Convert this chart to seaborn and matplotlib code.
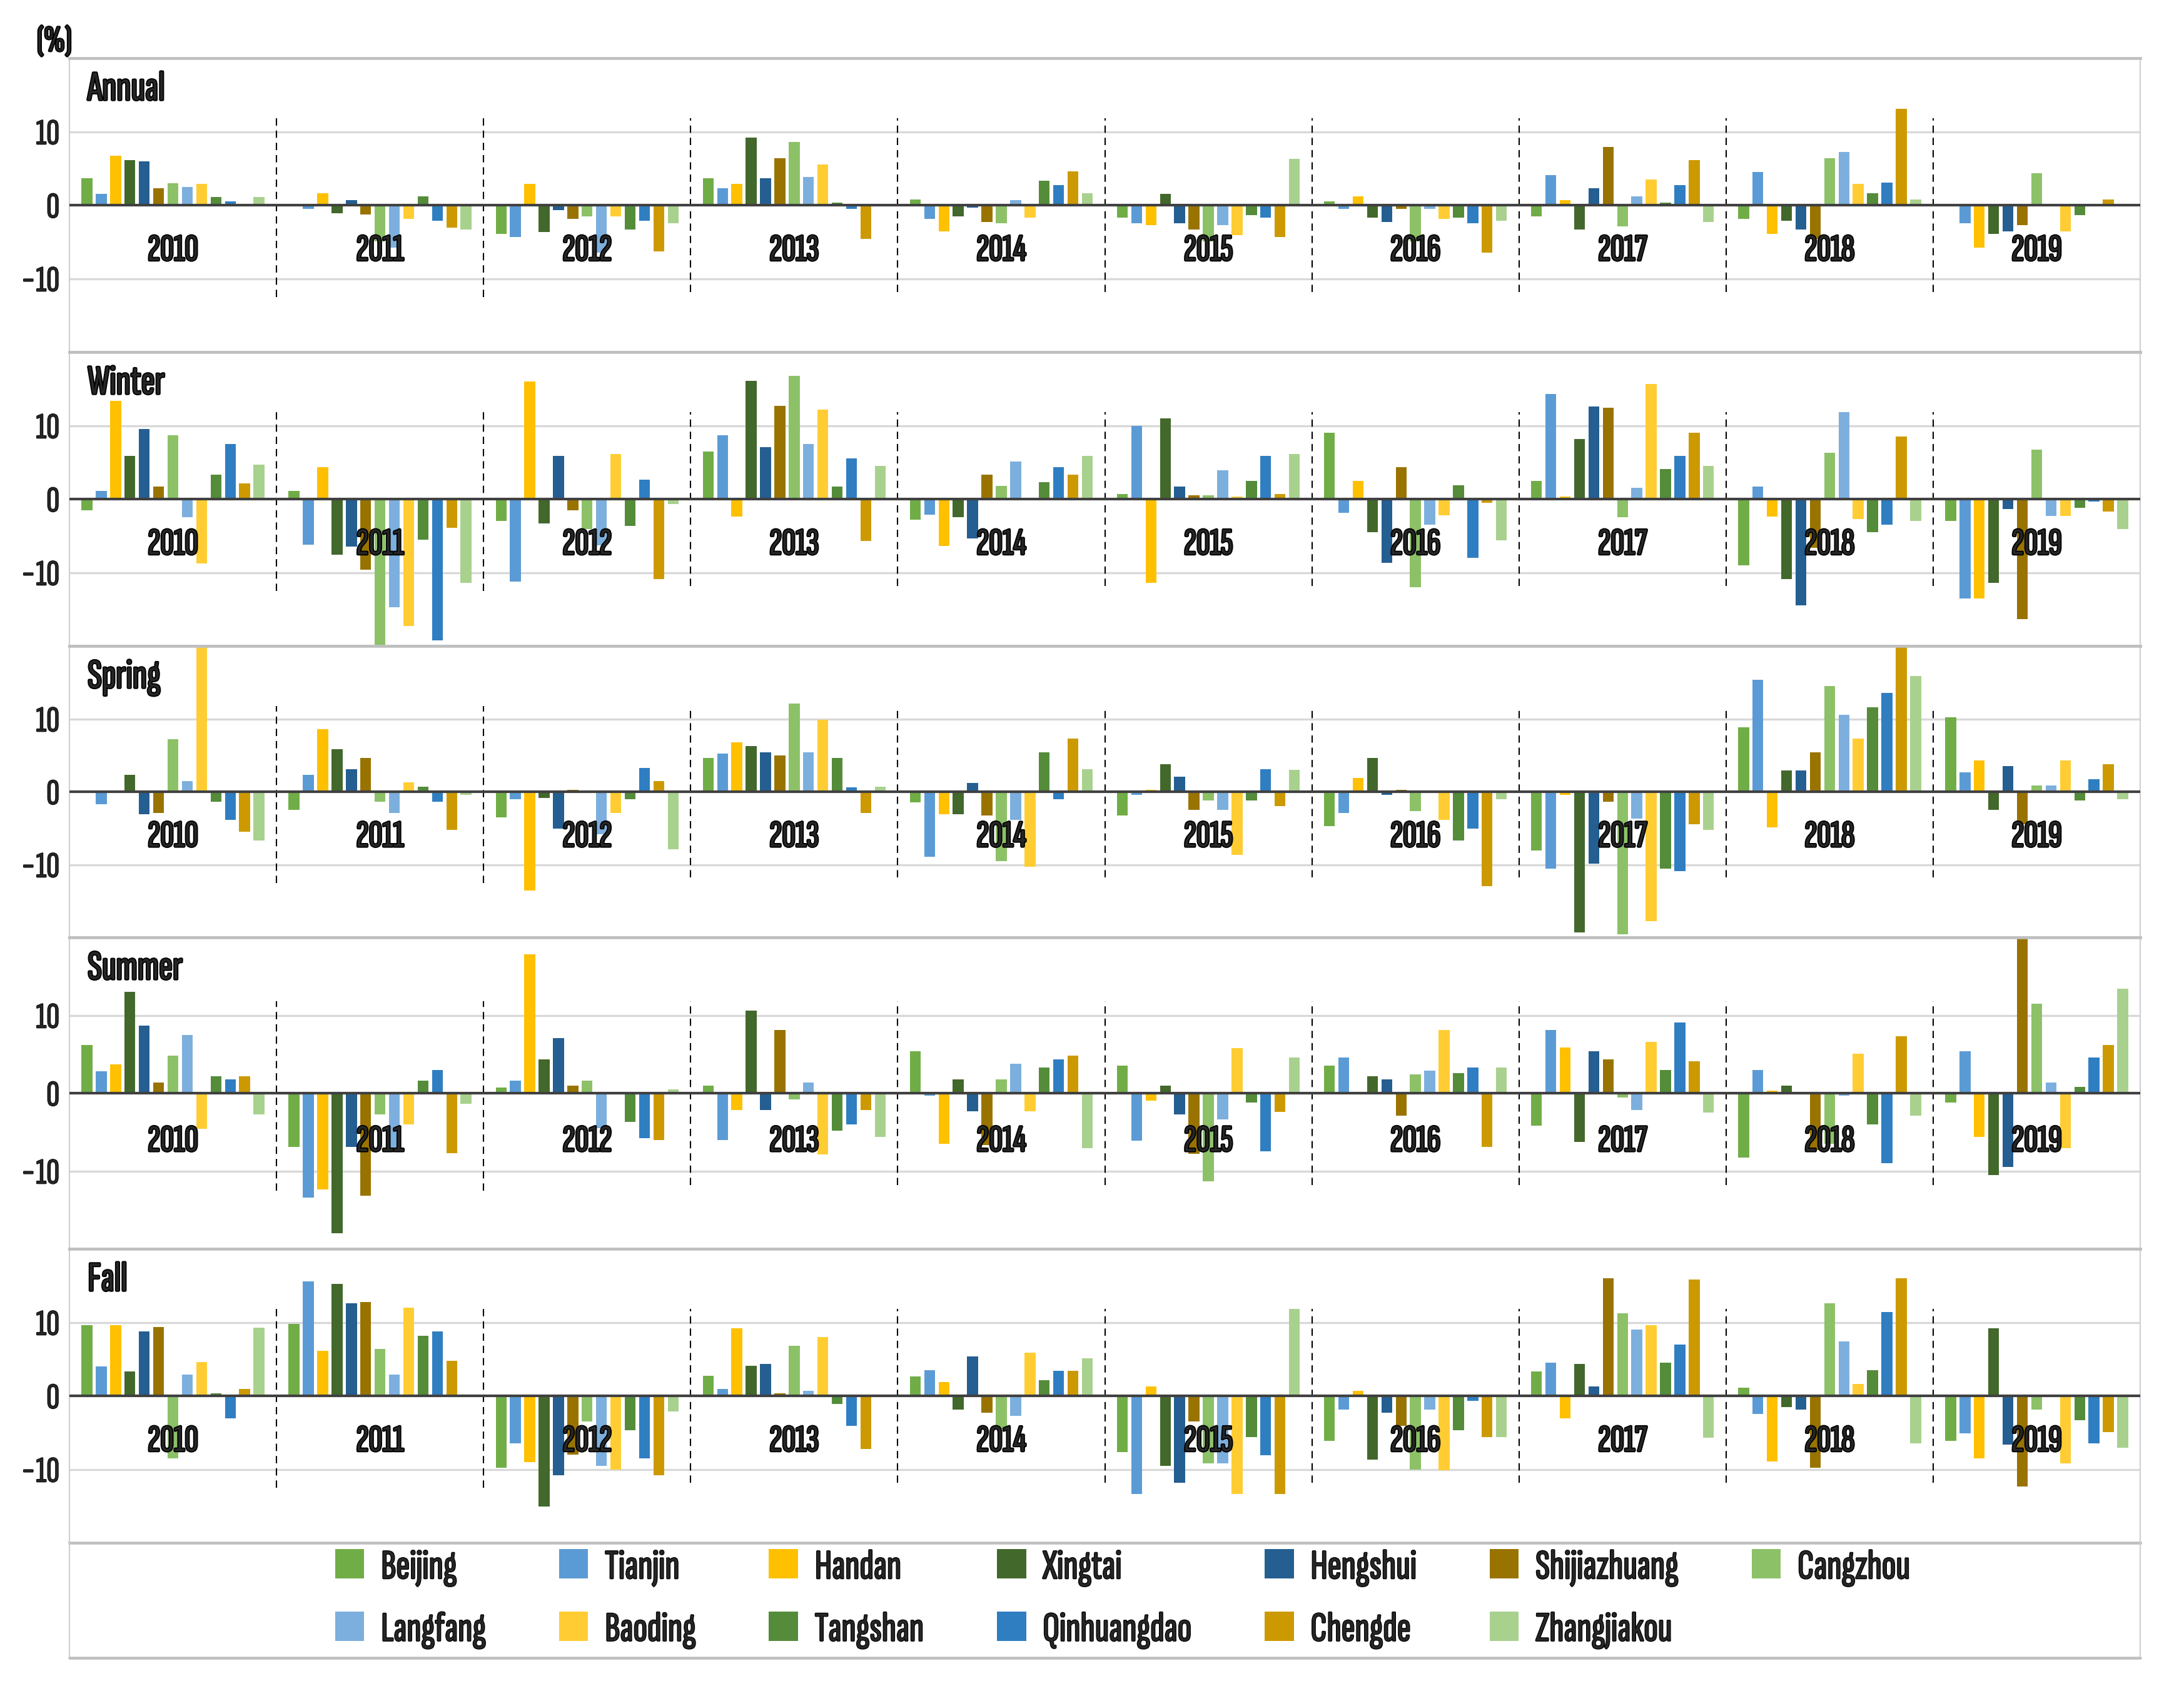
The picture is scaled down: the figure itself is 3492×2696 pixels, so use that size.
import numpy as np
import pandas as pd
import seaborn as sns
import matplotlib.pyplot as plt
import matplotlib.patheffects as pe
from matplotlib.patches import Patch
from matplotlib.lines import Line2D

# cities in legend / bar order
cities = ["Beijing", "Tianjin", "Handan", "Xingtai", "Hengshui", "Shijiazhuang", "Cangzhou",
          "Langfang", "Baoding", "Tangshan", "Qinhuangdao", "Chengde", "Zhangjiakou"]
colors = ["#70AD47", "#5B9BD5", "#FFC000", "#43682B", "#255E91", "#997300", "#8CC168",
          "#7CAFDD", "#FFCD33", "#548C3A", "#2F7EC2", "#CC9A00", "#A9D18E"]
years = [str(y) for y in range(2010, 2020)]
seasons = ["Annual", "Winter", "Spring", "Summer", "Fall"]

# one row per year, one value per city (%)
annual = [
    [3.7, 1.5, 6.7, 6.1, 6.0, 2.3, 3.0, 2.5, 2.9, 1.1, 0.5, 0.0, 1.1],
    [0.2, -0.5, 1.6, -1.1, 0.7, -1.3, -4.9, -5.8, -1.9, 1.2, -2.1, -3.1, -3.3],
    [-3.9, -4.3, 2.9, -3.7, -0.7, -1.9, -1.5, -6.5, -1.5, -3.3, -2.1, -6.3, -2.5],
    [3.7, 2.3, 2.9, 9.2, 3.7, 6.4, 8.6, 3.8, 5.5, 0.3, -0.5, -4.6, 0.0],
    [0.8, -1.9, -3.6, -1.5, -0.3, -2.3, -2.5, 0.7, -1.7, 3.3, 2.7, 4.6, 1.6],
    [-1.7, -2.5, -2.7, 1.5, -2.5, -3.3, -4.9, -2.7, -4.1, -1.4, -1.7, -4.3, 6.3],
    [0.5, -0.5, 1.2, -1.7, -2.3, -0.5, -4.9, -0.5, -1.9, -1.7, -2.5, -6.5, -2.1],
    [-1.5, 4.1, 0.7, -3.3, 2.3, 7.9, -2.9, 1.2, 3.5, 0.3, 2.7, 6.1, -2.3],
    [-1.9, 4.5, -3.9, -2.1, -3.3, -4.6, 6.4, 7.2, 2.9, 1.6, 3.1, 13.1, 0.8],
    [0.0, -2.5, -5.8, -3.9, -3.6, -2.7, 4.3, 0.0, -3.6, -1.4, 0.0, 0.8, 0.2],
]
winter = [
    [-1.5, 1.1, 13.4, 5.9, 9.5, 1.7, 8.7, -2.5, -8.8, 3.3, 7.5, 2.1, 4.7],
    [1.1, -6.2, 4.3, -7.6, -6.5, -9.6, -20.5, -14.7, -17.3, -5.5, -19.2, -3.9, -11.4],
    [-3.0, -11.2, 16.0, -3.3, 5.9, -1.5, -4.1, -6.3, 6.1, -3.7, 2.6, -10.9, -0.7],
    [6.5, 8.7, -2.4, 16.1, 7.1, 12.7, 16.8, 7.5, 12.2, 1.7, 5.5, -5.7, 4.5],
    [-2.8, -2.1, -6.4, -2.5, -5.4, 3.3, 1.8, 5.1, 0.0, 2.3, 4.3, 3.3, 5.9],
    [0.7, 10.0, -11.4, 11.0, 1.7, 0.5, 0.5, 3.9, 0.3, 2.5, 5.9, 0.7, 6.1],
    [9.0, -1.9, 2.5, -4.5, -8.7, 4.3, -12.0, -3.5, -2.2, 1.9, -8.0, -0.5, -5.6],
    [2.5, 14.3, 0.3, 8.2, 12.6, 12.4, -2.5, 1.5, 15.7, 4.1, 5.9, 9.0, 4.5],
    [-9.0, 1.7, -2.4, -10.9, -14.5, -6.6, 6.3, 11.8, -2.7, -4.5, -3.5, 8.5, -3.0],
    [-3.0, -13.5, -13.5, -11.4, -1.4, -16.3, 6.7, -2.3, -2.3, -1.2, -0.3, -1.7, -4.1],
]
spring = [
    [0.0, -1.7, -0.2, 2.3, -3.1, -2.9, 7.2, 1.5, 21.0, -1.4, -3.9, -5.5, -6.7],
    [-2.5, 2.3, 8.6, 5.8, 3.1, 4.6, -1.4, -2.9, 1.3, 0.7, -1.4, -5.2, -0.4],
    [-3.5, -1.0, -13.6, -0.9, -5.1, 0.3, 0.0, -5.8, -2.9, -1.0, 3.3, 1.5, -7.9],
    [4.6, 5.2, 6.8, 6.3, 5.4, 5.0, 12.1, 5.4, 9.9, 4.6, 0.6, -2.9, 0.7],
    [-1.5, -8.9, -3.1, -3.1, 1.2, -3.3, -9.5, -3.9, -10.3, 5.4, -1.0, 7.3, 3.1],
    [-3.3, -0.4, 0.3, 3.8, 2.1, -2.5, -1.2, -2.5, -8.7, -1.2, 3.1, -2.0, 3.0],
    [-4.7, -2.9, 1.9, 4.6, -0.4, 0.3, -2.7, 0.0, -3.9, -6.7, -5.1, -13.0, -1.0],
    [-8.1, -10.6, -0.4, -19.3, -9.9, -1.4, -19.6, -3.7, -17.8, -10.6, -10.9, -4.5, -5.2],
    [8.8, 15.4, -4.9, 2.9, 2.9, 5.4, 14.5, 10.6, 7.3, 11.6, 13.6, 20.8, 15.9],
    [10.2, 2.7, 4.3, -2.5, 3.5, -4.5, 0.9, 0.9, 4.3, -1.2, 1.7, 3.8, -1.0],
]
summer = [
    [6.2, 2.8, 3.7, 13.0, 8.7, 1.4, 4.8, 7.5, -4.6, 2.2, 1.8, 2.2, -2.7],
    [-6.9, -13.4, -12.4, -18.0, -6.9, -13.2, -2.7, -7.0, -4.0, 1.6, 3.0, -7.7, -1.4],
    [0.7, 1.6, 17.8, 4.3, 7.1, 1.0, 1.6, -4.5, 0.2, -3.7, -5.8, -6.0, 0.5],
    [1.0, -6.0, -2.2, 10.6, -2.2, 8.1, -0.8, 1.4, -7.9, -4.8, -4.0, -2.2, -5.6],
    [5.4, -0.3, -6.5, 1.8, -2.3, -6.7, 1.8, 3.8, -2.3, 3.3, 4.3, 4.8, -7.1],
    [3.5, -6.1, -1.0, 1.0, -2.7, -7.8, -11.3, -3.4, 5.8, -1.2, -7.5, -2.4, 4.6],
    [3.5, 4.6, 0.0, 2.2, 1.8, -2.9, 2.4, 2.9, 8.1, 2.6, 3.3, -6.9, 3.3],
    [-4.2, 8.1, 5.9, -6.3, 5.4, 4.3, -0.6, -2.2, 6.6, 3.0, 9.1, 4.1, -2.5],
    [-8.3, 3.0, 0.3, 1.0, 0.0, -7.3, -6.5, -0.3, 5.1, -4.0, -9.0, 7.3, -2.9],
    [-1.2, 5.4, -5.6, -10.5, -9.5, 21.0, 11.5, 1.4, -7.1, 0.8, 4.6, 6.2, 13.4],
]
fall = [
    [9.6, 4.0, 9.6, 3.3, 8.8, 9.4, -8.5, 2.9, 4.6, 0.3, -3.1, 0.9, 9.3],
    [9.8, 15.6, 6.1, 15.2, 12.6, 12.8, 6.4, 2.9, 12.0, 8.2, 8.8, 4.8, 0.0],
    [-9.8, -6.5, -9.0, -15.1, -10.8, -8.0, -3.5, -9.5, -10.0, -4.7, -8.5, -10.8, -2.1],
    [2.7, 0.9, 9.2, 4.1, 4.3, 0.3, 6.8, 0.7, 8.0, -1.1, -4.1, -7.2, 0.0],
    [2.6, 3.5, 1.9, -1.9, 5.4, -2.3, -4.5, -2.7, 5.9, 2.1, 3.4, 3.4, 5.1],
    [-7.7, -13.4, 1.3, -9.5, -11.8, -3.5, -9.2, -9.2, -13.4, -5.6, -8.1, -13.4, 11.8],
    [-6.1, -1.9, 0.7, -8.7, -2.3, -4.1, -10.0, -1.9, -10.1, -4.7, -0.7, -5.6, -5.6],
    [3.3, 4.5, -3.1, 4.3, 1.3, 16.0, 11.2, 9.0, 9.6, 4.5, 7.0, 15.8, -5.7],
    [1.1, -2.5, -8.9, -1.5, -1.9, -9.8, 12.6, 7.4, 1.6, 3.5, 11.4, 16.0, -6.5],
    [-6.1, -5.1, -8.5, 9.2, -6.6, -12.3, -1.9, -0.2, -9.2, -3.3, -6.5, -4.9, -7.1],
]
season_values = [annual, winter, spring, summer, fall]


def long_table(values):
    rows = []
    for year, row in zip(years, values):
        for city, v in zip(cities, row):
            rows.append({"year": year, "city": city, "value": v})
    return pd.DataFrame(rows)


sns.set_theme(style="white")
# condensed face, thickened with a stroke since only the regular instance loads
plt.rcParams["font.family"] = ["Sofia Sans Extra Condensed", "DejaVu Sans"]
plt.rcParams["lines.scale_dashes"] = False
bold = [pe.withStroke(linewidth=0.9, foreground="black")]

W, H, DPI = 3492, 2696, 300
fig = plt.figure(figsize=(W / DPI, H / DPI), dpi=DPI)

# panel layout in pixels
left_px, right_px = 111, 3422
edges_px = [93, 563, 1033, 1499, 1997, 2467]
frame_bottom_px = 2651

for i, (name, values) in enumerate(zip(seasons, season_values)):
    top, bottom = edges_px[i], edges_px[i + 1]
    ax = fig.add_axes([left_px / W, 1 - bottom / H,
                       (right_px - left_px) / W, (bottom - top) / H])
    df = long_table(values)
    sns.barplot(data=df, x="year", y="value", hue="city", order=years, hue_order=cities,
                palette=colors, saturation=1, width=0.9, gap=0.24, errorbar=None,
                linewidth=0, legend=False, ax=ax, zorder=2)
    ax.set_xlim(-0.5, 9.5)
    ax.set_ylim(-20, 20)

    # grid and zero line
    for yv in (-10, 10):
        ax.axhline(yv, color="#D9D9D9", lw=0.8, zorder=0)
    ax.axhline(0, color="#404040", lw=1.0, zorder=3)

    # dashed separators between years (first two reach a little lower)
    ax.vlines([0.5, 1.5], -12.5, 11.8, colors="black", lw=0.5,
              linestyles=(0, (2.8, 1.9)), zorder=1)
    ax.vlines(np.arange(2.5, 9.5, 1), -11.8, 11.8, colors="black", lw=0.5,
              linestyles=(0, (2.8, 1.9)), zorder=1)

    for j, yr in enumerate(years):
        ax.text(j, -6.2, yr, ha="center", va="center", fontsize=14.5,
                zorder=5, path_effects=bold)

    ax.annotate(name, xy=(0, 1), xycoords="axes fraction", xytext=(7, -5),
                textcoords="offset points", ha="left", va="top",
                fontsize=16, path_effects=bold)

    ax.set_xticks([])
    ax.set_yticks([-10, 0, 10])
    ax.tick_params(axis="y", length=0, pad=3.8, labelsize=14)
    for t in ax.get_yticklabels():
        t.set_path_effects([pe.withStroke(linewidth=0.4, foreground="black")])
    ax.set_xlabel("")
    ax.set_ylabel("")
    for side in ("top", "bottom"):
        ax.spines[side].set_color("#BFBFBF")
        ax.spines[side].set_linewidth(1.1)
    for side in ("left", "right"):
        ax.spines[side].set_color("#D0D0D0")
        ax.spines[side].set_linewidth(0.5)

fig.text(87 / W, 1 - 67 / H, "(%)", ha="center", va="center", fontsize=14,
         path_effects=bold)

# outer frame round the legend area
fig.add_artist(Line2D([left_px / W] * 2, [1 - edges_px[-1] / H, 1 - frame_bottom_px / H],
                      color="#D0D0D0", lw=0.5, transform=fig.transFigure))
fig.add_artist(Line2D([right_px / W] * 2, [1 - edges_px[-1] / H, 1 - frame_bottom_px / H],
                      color="#D0D0D0", lw=0.5, transform=fig.transFigure))
fig.add_artist(Line2D([left_px / W, right_px / W], [1 - frame_bottom_px / H] * 2,
                      color="#BFBFBF", lw=1.1, transform=fig.transFigure))

# legend: two rows of seven, matplotlib fills column by column
handles = [Patch(facecolor=c, edgecolor="none", label=n) for n, c in zip(cities, colors)]
order = []
for c in range(7):
    order.append(c)
    if c + 7 < len(cities):
        order.append(c + 7)
leg = fig.legend(handles=[handles[k] for k in order], ncol=7, loc="center",
                 bbox_to_anchor=(1795 / W, 1 - 2557 / H), frameon=False, fontsize=16,
                 handlelength=0.7, handleheight=0.7, handletextpad=0.4,
                 columnspacing=1.75, labelspacing=0.6)
for t in leg.get_texts():
    t.set_path_effects([pe.withStroke(linewidth=0.6, foreground="black")])

fig.savefig("out.png", dpi=DPI)
